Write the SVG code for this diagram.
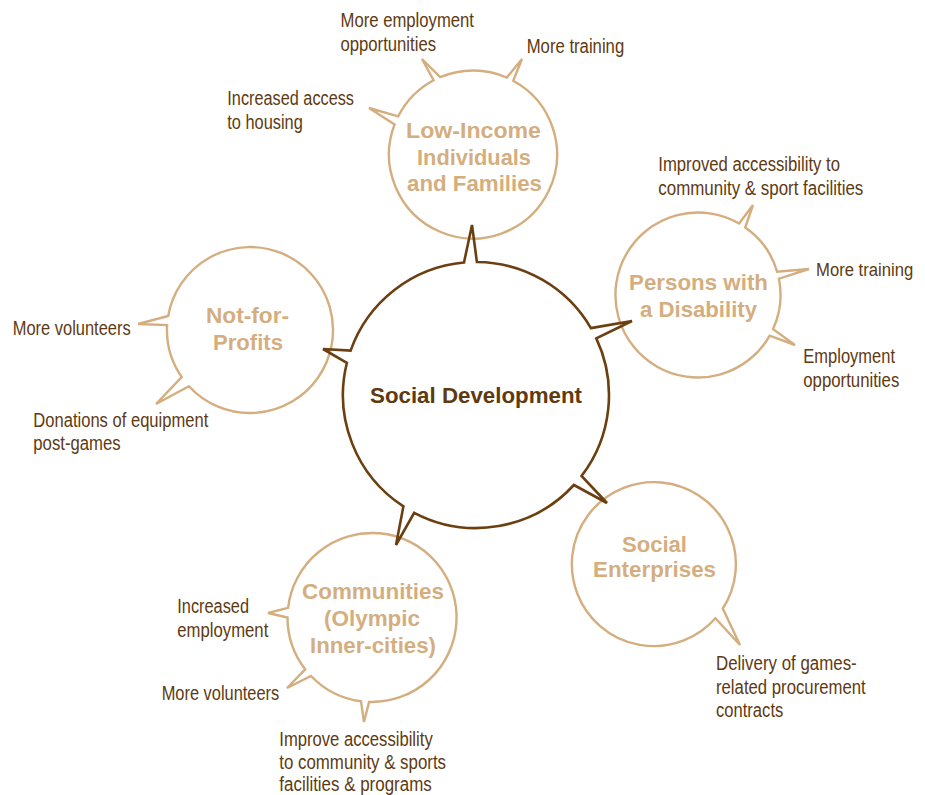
<svg xmlns="http://www.w3.org/2000/svg" width="925" height="795" viewBox="0 0 925 795">
<style>
.bg{fill:#ffffff}
.outer{fill:none;stroke:#d4ae7f;stroke-width:2.4;stroke-linejoin:miter}
.center{fill:none;stroke:#6b3f0f;stroke-width:2.6;stroke-linejoin:miter}
.lbl{font-family:"Liberation Sans",Arial,sans-serif;font-size:19.5px;fill:#5e3a12}
.ttl{font-family:"Liberation Sans",Arial,sans-serif;font-size:22.5px;font-weight:bold;fill:#d4ae7f;text-anchor:middle}
.ctl{font-family:"Liberation Sans",Arial,sans-serif;font-size:22px;font-weight:bold;fill:#5e3a0e;text-anchor:middle}
</style>
<rect class="bg" x="0" y="0" width="925" height="795"/>
<g id="connectors">
</g>
<g id="low-income">
<path class="outer" d="M394.6,124.4 L369,108 L398.2,116.4 A84,84 0 0 1 433.6,80.3 L422,59 L440.2,77.2 A84,84 0 0 1 506.8,77.6 L522,59 L513.2,80.7 A84,84 0 1 1 394.6,124.4 Z"/>
<text class="ttl" x="473.5" y="138" textLength="135" lengthAdjust="spacingAndGlyphs">Low-Income</text>
<text class="ttl" x="474" y="164.5" textLength="114" lengthAdjust="spacingAndGlyphs">Individuals</text>
<text class="ttl" x="474.5" y="191" textLength="135" lengthAdjust="spacingAndGlyphs">and Families</text>
<text class="lbl" x="340.5" y="26.5" textLength="133.5" lengthAdjust="spacingAndGlyphs">More employment</text>
<text class="lbl" x="340.5" y="50.5" textLength="95.5" lengthAdjust="spacingAndGlyphs">opportunities</text>
<text class="lbl" x="526.7" y="53" textLength="97.5" lengthAdjust="spacingAndGlyphs">More training</text>
<text class="lbl" x="227.3" y="105" textLength="126.7" lengthAdjust="spacingAndGlyphs">Increased access</text>
<text class="lbl" x="227.3" y="129" textLength="75.5" lengthAdjust="spacingAndGlyphs">to housing</text>
</g>
<g id="disability">
<path class="outer" d="M739.1,223.5 L753,205 L745.3,227.4 A82.5,82.5 0 0 1 777.1,271.6 L809,269 L778.9,278.7 A82.5,82.5 0 0 1 773.1,329.1 L795,345 L769.7,335.7 A82.5,82.5 0 1 1 739.1,223.5 Z"/>
<text class="ttl" x="698.5" y="290" textLength="139" lengthAdjust="spacingAndGlyphs">Persons with</text>
<text class="ttl" x="698.5" y="317" textLength="117" lengthAdjust="spacingAndGlyphs">a Disability</text>
<text class="lbl" x="658.3" y="171" textLength="181.7" lengthAdjust="spacingAndGlyphs">Improved accessibility to</text>
<text class="lbl" x="658.3" y="195" textLength="205" lengthAdjust="spacingAndGlyphs">community &amp; sport facilities</text>
<text class="lbl" x="816" y="276" style="font-size:18px" textLength="97.3" lengthAdjust="spacingAndGlyphs">More training</text>
<text class="lbl" x="803.3" y="363" textLength="91.7" lengthAdjust="spacingAndGlyphs">Employment</text>
<text class="lbl" x="803.3" y="386.5" textLength="96" lengthAdjust="spacingAndGlyphs">opportunities</text>
</g>
<g id="not-for-profits">
<path class="outer" d="M188.9,386.2 L156,404 L181.7,377.1 A83,83 0 0 1 167.1,325.1 L138,324 L168.2,316 A83,83 0 1 1 188.9,386.2 Z"/>
<text class="ttl" x="247.5" y="323" textLength="83" lengthAdjust="spacingAndGlyphs">Not-for-</text>
<text class="ttl" x="248" y="350" textLength="70" lengthAdjust="spacingAndGlyphs">Profits</text>
<text class="lbl" x="12.7" y="335" textLength="118" lengthAdjust="spacingAndGlyphs">More volunteers</text>
<text class="lbl" x="33.3" y="427" textLength="175" lengthAdjust="spacingAndGlyphs">Donations of equipment</text>
<text class="lbl" x="33.3" y="450" textLength="87.4" lengthAdjust="spacingAndGlyphs">post-games</text>
</g>
<g id="social-enterprises">
<path class="outer" d="M722.8,608.5 L740,645 L715.4,618.3 A82,82 0 1 1 722.8,608.5 Z"/>
<text class="ttl" x="654.5" y="552" textLength="65" lengthAdjust="spacingAndGlyphs">Social</text>
<text class="ttl" x="654.5" y="577" textLength="123" lengthAdjust="spacingAndGlyphs">Enterprises</text>
<text class="lbl" x="716" y="670" textLength="140.7" lengthAdjust="spacingAndGlyphs">Delivery of games-</text>
<text class="lbl" x="716" y="694" textLength="149.7" lengthAdjust="spacingAndGlyphs">related procurement</text>
<text class="lbl" x="716" y="717" textLength="67.3" lengthAdjust="spacingAndGlyphs">contracts</text>
</g>
<g id="communities">
<path class="outer" d="M369.1,701.9 L364,722 L361,701.3 A84.5,84.5 0 0 1 311,676 L287,688 L305.2,669.3 A84.5,84.5 0 0 1 287.5,617.5 L268,613 L288.1,607.8 A84.5,84.5 0 1 1 369.1,701.9 Z"/>
<text class="ttl" x="373" y="599" textLength="142" lengthAdjust="spacingAndGlyphs">Communities</text>
<text class="ttl" x="372" y="626" textLength="96" lengthAdjust="spacingAndGlyphs">(Olympic</text>
<text class="ttl" x="373" y="653" textLength="126" lengthAdjust="spacingAndGlyphs">Inner-cities)</text>
<text class="lbl" x="177.3" y="613" textLength="71.7" lengthAdjust="spacingAndGlyphs">Increased</text>
<text class="lbl" x="177.3" y="636.5" textLength="91" lengthAdjust="spacingAndGlyphs">employment</text>
<text class="lbl" x="161.7" y="700" textLength="117.6" lengthAdjust="spacingAndGlyphs">More volunteers</text>
<text class="lbl" x="279.3" y="746" textLength="153.4" lengthAdjust="spacingAndGlyphs">Improve accessibility</text>
<text class="lbl" x="279.3" y="769" textLength="166.7" lengthAdjust="spacingAndGlyphs">to community &amp; sports</text>
<text class="lbl" x="279.3" y="791" textLength="152.4" lengthAdjust="spacingAndGlyphs">facilities &amp; programs</text>
</g>
<g id="social-development">
<path class="center" d="M590.9,328.1 L632,321 L596.3,338.4 A133,133 0 0 1 581.5,476 L607,503 L573.9,485 A133,133 0 0 1 414.2,512.8 L396,545 L403.4,506.4 A133,133 0 0 1 346.9,362.8 L323,349 L350.6,350.6 A133,133 0 0 1 464,262.5 L472,225 L476.9,262 A133,133 0 0 1 590.9,328.1 Z"/>
<text class="ctl" x="476" y="402.5" textLength="212" lengthAdjust="spacingAndGlyphs">Social Development</text>
</g>
</svg>
